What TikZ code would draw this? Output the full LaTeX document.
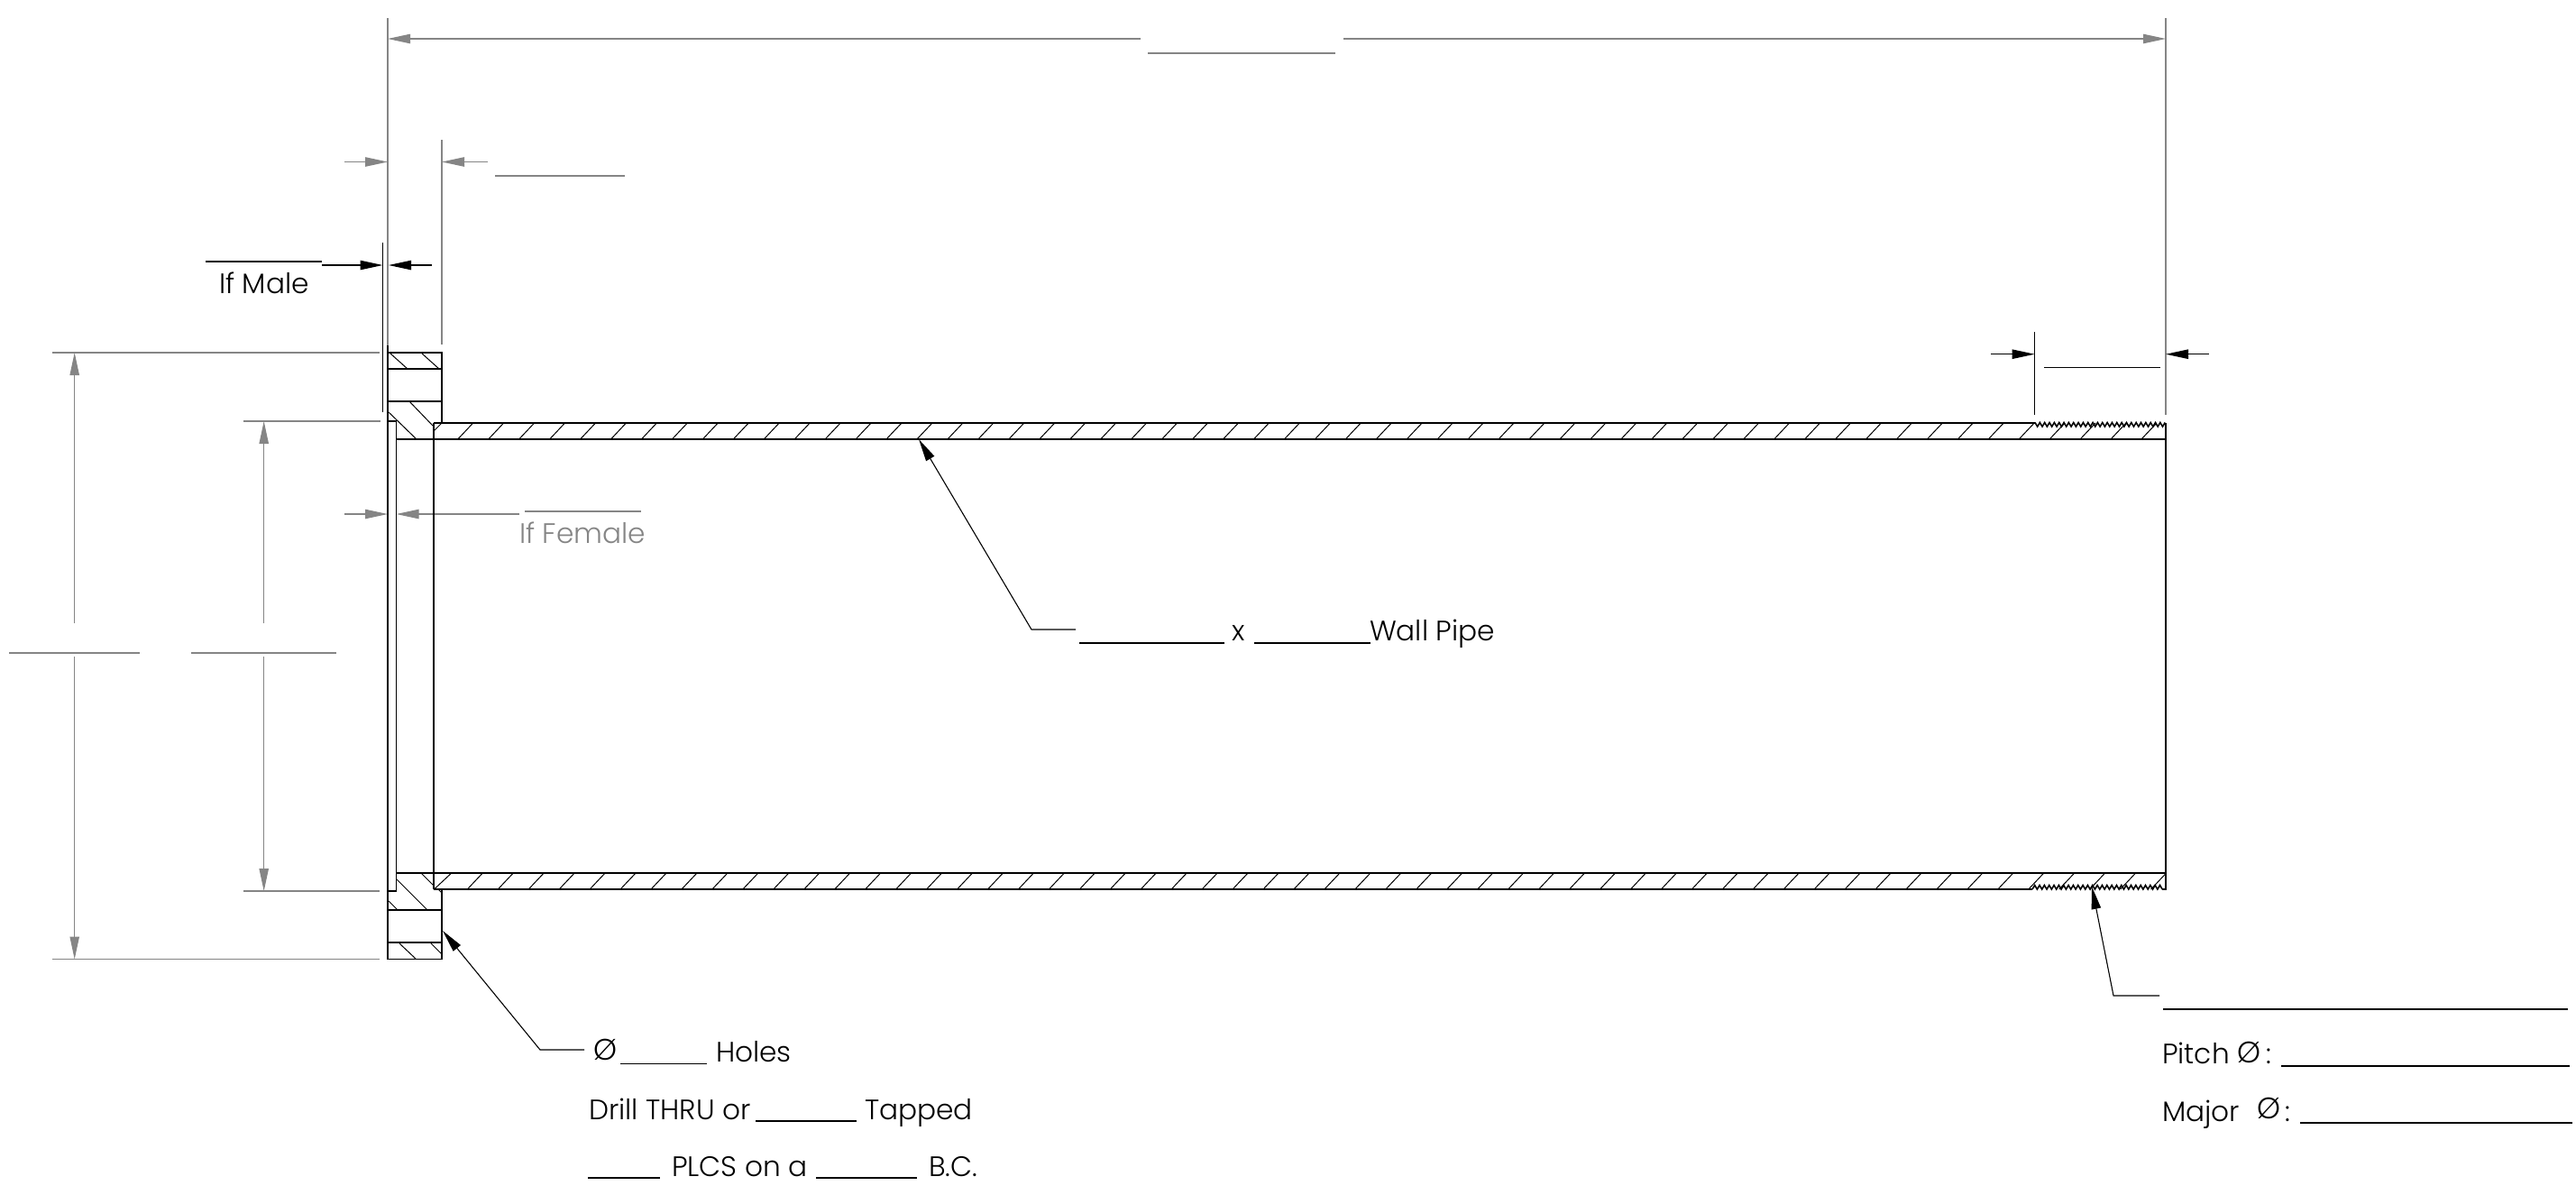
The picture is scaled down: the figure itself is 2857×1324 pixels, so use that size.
\documentclass[tikz,border=0pt]{standalone}
\usepackage{fontspec}
\setmainfont{Poppins}[UprightFont=* Light]
\usetikzlibrary{arrows.meta}
\definecolor{dimgray}{HTML}{858585}
\tikzset{
  obj/.style={line width=0.8pt,black},
  hatch/.style={line width=0.5pt,black},
  thin black/.style={line width=0.55pt,black},
  dimg/.style={line width=0.55pt,dimgray},
  headg/.style={-{Triangle[length=12.5pt,width=5.2pt,color=dimgray]}},
  headb/.style={-{Triangle[length=12.5pt,width=5.2pt,color=black]}},
  txt/.style={anchor=base west,inner sep=0pt,outer sep=0pt,font=\fontsize{15.6pt}{18pt}\selectfont},
  phi/.style={anchor=center,inner sep=0pt,outer sep=0pt,font=\fontsize{16.5pt}{18pt}\selectfont},
}
\begin{document}
\begin{tikzpicture}[x=0.5pt,y=-0.5pt]
\useasboundingbox (0,0) rectangle (2857,1324);
% ---- gray extension lines
\draw[dimg] (430,20) -- (430,383);
\draw[dimg] (490,155) -- (490,382);
\draw[dimg] (2402,20) -- (2402,460);
\draw[dimg] (58,391) -- (421,391);
\draw[dimg] (270,467) -- (422,467);
\draw[dimg] (270,988) -- (421,988);
\draw[dimg] (58,1063.5) -- (421,1063.5);
% ---- gray dimensions
\coordinate (topL) at (430,43); \coordinate (topR) at (2402,43);
\coordinate (topGapL) at (1265,43); \coordinate (topGapR) at (1490,43);
\draw[dimg,headg] (topGapL) -- (topL);
\draw[dimg,headg] (topGapR) -- (topR);
\draw[dimg] (1273,59) -- (1481,59);
\coordinate (a1) at (382,179.5); \coordinate (a2) at (430,179.5);
\coordinate (a3) at (541,179.5); \coordinate (a4) at (490,179.5);
\draw[dimg,headg] (a1) -- (a2);
\draw[dimg,headg] (a3) -- (a4);
\draw[dimg] (549,195) -- (693,195);
\coordinate (f1) at (382,570); \coordinate (f2) at (430,570);
\coordinate (f3) at (576,570); \coordinate (f4) at (439.5,570);
\draw[dimg,headg] (f1) -- (f2);
\draw[dimg,headg] (f3) -- (f4);
\draw[dimg] (582,567) -- (711,567);
\node[txt,text=dimgray] (iffemale) at (576,602.5) {If Female};
% vertical dims
\coordinate (v1t) at (82.7,391); \coordinate (v1m) at (82.7,691);
\coordinate (v1n) at (82.7,728); \coordinate (v1b) at (82.7,1063.5);
\draw[dimg,headg] (v1m) -- (v1t);
\draw[dimg,headg] (v1n) -- (v1b);
\draw[dimg] (10,724) -- (155,724);
\coordinate (v2t) at (292.7,467); \coordinate (v2m) at (292.7,691);
\coordinate (v2n) at (292.7,728); \coordinate (v2b) at (292.7,988);
\draw[dimg,headg] (v2m) -- (v2t);
\draw[dimg,headg] (v2n) -- (v2b);
\draw[dimg] (212,724) -- (373,724);
% ---- black dimensions
\draw[thin black] (424.5,269) -- (424.5,457);
\draw[thin black] (228,290) -- (357,290);
\coordinate (m1) at (357,294); \coordinate (m2) at (424.5,294);
\coordinate (m3) at (479,294); \coordinate (m4) at (431,294);
\draw[thin black,headb] (m1) -- (m2);
\draw[thin black,headb] (m3) -- (m4);
\node[txt] (ifmale) at (243,325) {If Male};
\draw[thin black] (2256.6,368) -- (2256.6,460);
\coordinate (t1) at (2208,392.7); \coordinate (t2) at (2256.6,392.7);
\coordinate (t3) at (2449.5,392.7); \coordinate (t4) at (2402,392.7);
\draw[thin black,headb] (t1) -- (t2);
\draw[thin black,headb] (t3) -- (t4);
\draw[thin black] (2267,407.7) -- (2396,407.7);
% ---- part outline
\draw[obj] (430,383) -- (430,1063.5) -- (490,1063.5) -- (490,986);
\draw[obj] (430,391) -- (490,391) -- (490,469);
\draw[obj] (430,409) -- (491,409);
\draw[obj] (430,445) -- (491,445);
\draw[obj] (430,1009) -- (491,1009);
\draw[obj] (430,1045) -- (491,1045);
\draw[obj] (430,467) -- (439.5,467) -- (439.5,988) -- (430,988);
\draw[obj] (481,469) -- (481,986);
\draw[obj] (481,469) -- (2257,469);
\draw[obj] (439.5,487) -- (2402,487);
\draw[obj] (439.5,968) -- (2402,968);
\draw[obj] (481,986) -- (2254,986);
\draw[obj] (2402,469) -- (2402,986) -- (2398,986);
% threads
\draw[obj] (2257,468.5) \foreach \i in {1,...,27} { -- ++(2.67,4.5) -- ++(2.67,-4.5) };
\draw[obj] (2254,986) \foreach \i in {1,...,27} { -- ++(2.67,-4.5) -- ++(2.67,4.5) };
% ---- hatching
\foreach \k in {0,...,55} {
  \pgfmathsetmacro{\xa}{507.7+33.95*\k}
  \draw[hatch] (\xa,487) -- (\xa+17,469);
}
\foreach \k in {0,...,55} {
  \pgfmathsetmacro{\xb}{518.3+33.95*\k}
  \draw[hatch] (\xb,986) -- (\xb+17,968);
}
\draw[hatch] (481.5,986) -- (500.7,968);
\draw[hatch] (433,392) -- (452,409);
\draw[hatch] (468,392) -- (487,409);
\draw[hatch] (454,445) -- (480,472);
\draw[hatch] (431,457) -- (462,487);
\draw[hatch] (481,478) -- (490,469);
\draw[hatch] (440,975) -- (474,1009);
\draw[hatch] (431,999) -- (441,1009);
\draw[hatch] (467,968) -- (481,982);
\draw[hatch] (443,1046) -- (461,1063);
\draw[hatch] (478,1046) -- (490,1058);
\draw[hatch] (486,986) -- (490,990);
% ---- wall pipe callout
\node[txt] (wallpipe) at (1519,710) {Wall Pipe};
\node[txt] (xmark) at (1366,710) {x};
\coordinate (wtip) at (1019,487); \coordinate (welb) at (1144,698); \coordinate (wend) at (1193,698);
\draw[thin black,headb] (wend) -- (welb) -- (wtip);
\draw[thin black] (1197,713) -- (1357.5,713);
\draw[thin black] (1390.5,713) -- (1520,713);
% ---- holes callout
\coordinate (htip) at (491,1032); \coordinate (helb) at (599,1164); \coordinate (hend) at (648,1164);
\draw[thin black,headb] (hend) -- (helb) -- (htip);
\node[phi] (phiholes) at (671,1164) {Ø};
\draw[thin black] (688,1179.3) -- (784,1179.3);
\node[txt] (holes) at (794,1177) {Holes};
\node[txt] (drill) at (653,1241) {Drill THRU or};
\draw[thin black] (838,1243) -- (950,1243);
\node[txt] (tapped) at (959,1241) {Tapped};
\draw[thin black] (652,1306) -- (732,1306);
\node[txt] (plcs) at (745,1304) {PLCS on a};
\draw[thin black] (905,1306) -- (1017,1306);
\node[txt] (bc) at (1030,1304) {B.C.};
% ---- thread callout
\coordinate (ttip) at (2320,983); \coordinate (telb) at (2344,1104); \coordinate (tend) at (2395,1104);
\draw[thin black,headb] (tend) -- (telb) -- (ttip);
\draw[thin black] (2399,1119) -- (2848,1119);
\node[txt] (pitch) at (2398,1179) {Pitch};
\node[phi] (phipitch) at (2494.5,1167) {Ø};
\node[txt] (colonp) at (2513,1179) {:};
\draw[thin black] (2530,1182) -- (2850,1182);
\node[txt] (major) at (2398,1243) {Major};
\node[phi] (phimajor) at (2516,1229) {Ø};
\node[txt] (colonm) at (2534,1243) {:};
\draw[thin black] (2551,1245) -- (2853,1245);
\end{tikzpicture}
\end{document}
